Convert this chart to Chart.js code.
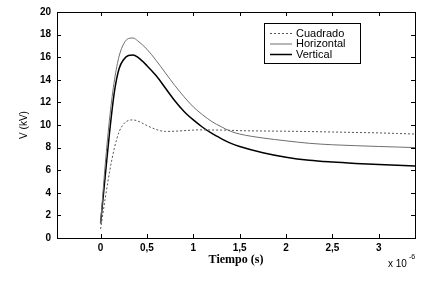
<!DOCTYPE html>
<html lang="es">
<head>
<meta charset="UTF-8">
<title>Tensión inducida</title>
<script src="https://cdn.jsdelivr.net/npm/chart.js"></script>
<style>
    body { margin: 0; padding: 0; background: #fff; }
    #wrap { width: 433px; height: 289px; }
</style>
</head>
<body>
<div id="wrap"><canvas id="grafico" width="433" height="289"></canvas></div>
<script>
// tiempo en microsegundos (eje x * 10^-6)
const tiempo = [0, 0.05, 0.1, 0.15, 0.2, 0.25, 0.3, 0.35, 0.4, 0.5, 0.6, 0.7, 0.8, 0.9, 1.0, 1.1, 1.2, 1.3, 1.4, 1.5, 1.75, 2.0, 2.25, 2.5, 2.75, 3.0, 3.2, 3.39];
const cuadrado = [0.8, 3.5, 6, 8, 9.4, 10.1, 10.4, 10.45, 10.35, 9.95, 9.6, 9.43, 9.45, 9.5, 9.55, 9.57, 9.56, 9.55, 9.53, 9.5, 9.47, 9.45, 9.42, 9.38, 9.34, 9.3, 9.25, 9.2];
const horizontal = [1.3, 6.5, 10.8, 14, 16.1, 17.2, 17.65, 17.7, 17.45, 16.7, 15.7, 14.6, 13.5, 12.5, 11.6, 10.9, 10.3, 9.85, 9.45, 9.2, 8.85, 8.6, 8.38, 8.25, 8.17, 8.1, 8.05, 8.0];
const vertical = [1.3, 5.5, 9.6, 13, 15.0, 15.8, 16.15, 16.2, 16.0, 15.25, 14.35, 13.25, 12.15, 11.2, 10.45, 9.8, 9.25, 8.8, 8.4, 8.1, 7.55, 7.15, 6.88, 6.72, 6.6, 6.5, 6.43, 6.38];
const xTicks = [0, 0.5, 1, 1.5, 2, 2.5, 3];
const yTicks = [0, 2, 4, 6, 8, 10, 12, 14, 16, 18, 20];

function puntos(ys) {
    return tiempo.map((t, i) => ({ x: t, y: ys[i] }));
}

// marco completo con marcas hacia dentro, leyenda y exponente
const marco = {
    id: 'marco',
    afterDraw(chart) {
        const ctx = chart.ctx;
        const a = chart.chartArea;
        const sx = chart.scales.x, sy = chart.scales.y;
        ctx.save();
        ctx.strokeStyle = '#000';
        ctx.lineWidth = 1;
        ctx.strokeRect(Math.round(a.left) + 0.5, Math.round(a.top) + 0.5,
            Math.round(a.right - a.left), Math.round(a.bottom - a.top));
        ctx.beginPath();
        xTicks.forEach(v => {
            const px = Math.round(sx.getPixelForValue(v)) + 0.5;
            ctx.moveTo(px, a.bottom); ctx.lineTo(px, a.bottom - 4);
            ctx.moveTo(px, a.top); ctx.lineTo(px, a.top + 4);
        });
        yTicks.forEach(v => {
            const py = Math.round(sy.getPixelForValue(v)) + 0.5;
            ctx.moveTo(a.left, py); ctx.lineTo(a.left + 4, py);
            ctx.moveTo(a.right, py); ctx.lineTo(a.right - 4, py);
        });
        ctx.stroke();

        // leyenda
        const bx = 264.5, by = 23.5, bw = 96, bh = 40;
        ctx.fillStyle = '#fff';
        ctx.fillRect(bx, by, bw, bh);
        ctx.strokeRect(bx, by, bw, bh);
        ctx.font = '11px Arial, "Liberation Sans", sans-serif';
        ctx.textBaseline = 'middle';
        chart.data.datasets.forEach((ds, i) => {
            const yy = 33.5 + i * 10.5;
            ctx.beginPath();
            ctx.strokeStyle = ds.borderColor;
            ctx.lineWidth = ds.borderWidth;
            ctx.setLineDash(ds.borderDash || []);
            ctx.moveTo(270, yy); ctx.lineTo(292, yy);
            ctx.stroke();
            ctx.setLineDash([]);
            ctx.fillStyle = '#000';
            ctx.fillText(ds.label, 296, yy);
        });

        // exponente del eje x
        ctx.fillStyle = '#000';
        ctx.textBaseline = 'alphabetic';
        ctx.font = '10px Arial, "Liberation Sans", sans-serif';
        ctx.fillText('x 10', 388, 267);
        ctx.font = '7px Arial, "Liberation Sans", sans-serif';
        ctx.fillText('-6', 409, 259);
        ctx.restore();
    }
};

new Chart(document.getElementById('grafico'), {
    type: 'line',
    data: {
        datasets: [
            { label: 'Cuadrado', data: puntos(cuadrado), borderColor: '#555', borderWidth: 1, borderDash: [2, 2] },
            { label: 'Horizontal', data: puntos(horizontal), borderColor: '#6e6e6e', borderWidth: 1 },
            { label: 'Vertical', data: puntos(vertical), borderColor: '#000', borderWidth: 1.5 }
        ]
    },
    options: {
        responsive: false,
        animation: false,
        events: [],
        layout: { padding: { top: 4, right: 18, left: 0, bottom: 0 } },
        elements: {
            point: { radius: 0 },
            line: { cubicInterpolationMode: 'monotone', fill: false }
        },
        plugins: { legend: { display: false }, tooltip: { enabled: false } },
        scales: {
            x: {
                type: 'linear',
                min: -0.47,
                max: 3.39,
                grid: { display: false, drawTicks: false, tickLength: 0 },
                border: { display: true, color: '#000', width: 1 },
                afterBuildTicks: s => { s.ticks = xTicks.map(v => ({ value: v })); },
                afterFit: s => { s.height = 51; },
                ticks: {
                    color: '#000',
                    padding: 4,
                    maxRotation: 0,
                    font: { family: 'Arial, "Liberation Sans", sans-serif', size: 10, weight: 'bold' },
                    callback: v => String(v).replace('.', ',')
                },
                title: {
                    display: true,
                    text: 'Tiempo (s)',
                    color: '#000',
                    font: { family: '"Times New Roman", "Liberation Serif", serif', size: 12, weight: 'bold', lineHeight: 1.2 },
                    padding: { top: 0, bottom: 22 }
                }
            },
            y: {
                min: 0,
                max: 20,
                grid: { display: false, drawTicks: false, tickLength: 0 },
                border: { display: true, color: '#000', width: 1 },
                afterBuildTicks: s => { s.ticks = yTicks.map(v => ({ value: v })); },
                afterFit: s => { s.width = 57; },
                ticks: {
                    color: '#000',
                    padding: 6,
                    font: { family: 'Arial, "Liberation Sans", sans-serif', size: 10, weight: 'bold' }
                },
                title: {
                    display: true,
                    text: 'V (kV)',
                    color: '#000',
                    font: { family: 'Arial, "Liberation Sans", sans-serif', size: 10, lineHeight: 1.2 },
                    padding: { top: 18, bottom: 0 }
                }
            }
        }
    },
    plugins: [marco]
});
</script>
</body>
</html>
